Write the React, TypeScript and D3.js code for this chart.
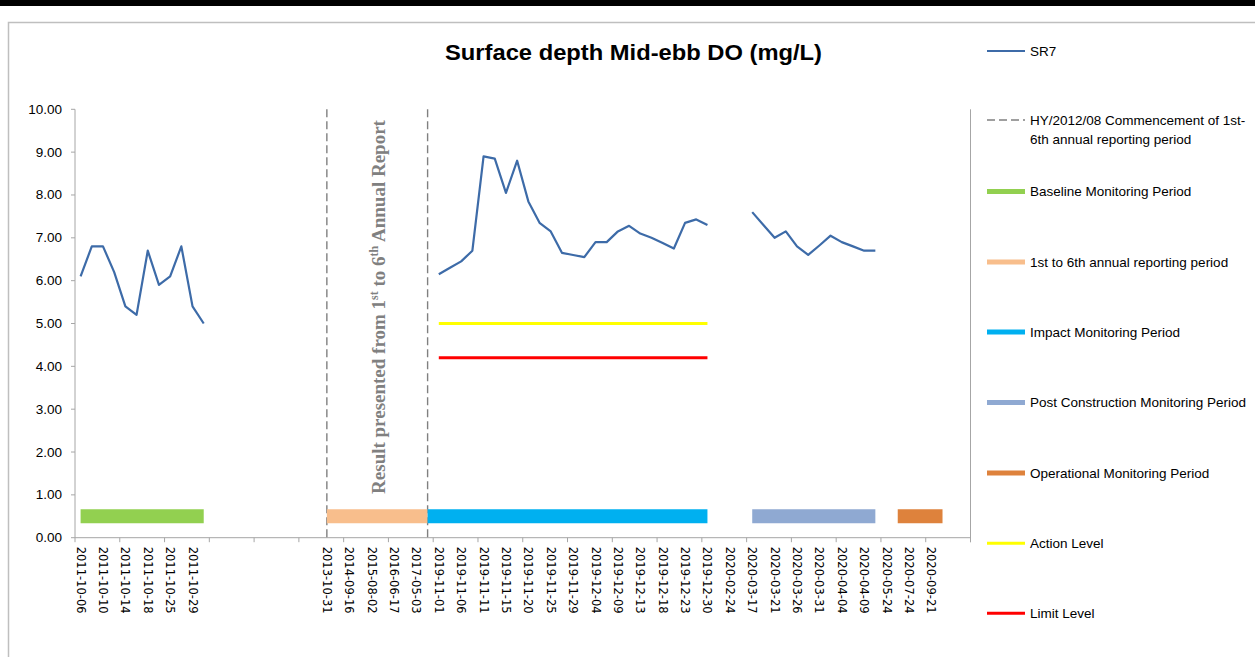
import React from "react";
import * as d3 from "d3";

// ---- data ----
const categoryCount = 80;
// labels shown on every second category (index k -> category 2k)
const tickLabels = [
  "2011-10-06", "2011-10-10", "2011-10-14", "2011-10-18", "2011-10-25", "2011-10-29",
  "", "", "", "", "",
  "2013-10-31", "2014-09-16", "2015-08-02", "2016-06-17", "2017-05-03",
  "2019-11-01", "2019-11-06", "2019-11-11", "2019-11-15", "2019-11-20", "2019-11-25",
  "2019-11-29", "2019-12-04", "2019-12-09", "2019-12-13", "2019-12-18", "2019-12-23",
  "2019-12-30", "2020-02-24", "2020-03-17", "2020-03-21", "2020-03-26", "2020-03-31",
  "2020-04-04", "2020-04-09", "2020-05-24", "2020-07-24", "2020-09-21", "",
];
const yTicks = [0, 1, 2, 3, 4, 5, 6, 7, 8, 9, 10];

const baselineStart = 0;
const baselineValues = [6.1, 6.8, 6.8, 6.2, 5.4, 5.2, 6.7, 5.9, 6.1, 6.8, 5.4, 5.0];
const impactStart = 32;
const impactValues = [
  6.15, 6.3, 6.45, 6.7, 8.9, 8.85, 8.05, 8.8, 7.85, 7.35, 7.15, 6.65, 6.6,
  6.55, 6.9, 6.9, 7.15, 7.28, 7.1, 7.0, 6.88, 6.75, 7.35, 7.43, 7.3,
];
const postStart = 60;
const postValues = [7.6, 7.3, 7.0, 7.15, 6.8, 6.6, 6.82, 7.05, 6.9, 6.8, 6.7, 6.7];

const periodNames = [
  "Baseline Monitoring Period",
  "1st to 6th annual reporting period",
  "Impact Monitoring Period",
  "Post Construction Monitoring Period",
  "Operational Monitoring Period",
];
const periodStart = [0, 22, 31, 60, 73];
const periodEnd = [11, 31, 56, 71, 77];
const periodColors = ["#92D050", "#F8BE8C", "#00B0F0", "#8FA9D2", "#DE823C"];
const periodLevel = 0.5;

const dashedCats = [22, 31];
const actionLevel = 5.0;
const limitLevel = 4.2;
const levelStart = 32;
const levelEnd = 56;

const title = "Surface depth Mid-ebb DO (mg/L)";

// ---- layout ----
const W = 1255;
const H = 657;
const plotLeft = 75;
const plotRight = 970.5;
const plotTop = 109.3;
const plotBottom = 537.7;

export default function App() {
  const xi = d3.scaleLinear().domain([0, categoryCount]).range([plotLeft, plotRight]);
  const xc = (i: number) => xi(i + 0.5);
  const y = d3.scaleLinear().domain([0, 10]).range([plotBottom, plotTop]);

  const line = d3
    .line<[number, number]>()
    .x((d) => xc(d[0]))
    .y((d) => y(d[1]));

  const seg = (start: number, vals: number[]) =>
    line(vals.map((v, i) => [start + i, v] as [number, number])) || "";

  const xTickIdx = d3.range(0, categoryCount + 1, 4);

  const legendY = [51, 120, 191.5, 262, 332, 402.5, 473, 543.3, 613.3];
  const legendX0 = 987;
  const legendX1 = 1025;
  const legendTextX = 1030;
  const legendFont = "'Liberation Sans', Arial, sans-serif";

  return (
    <svg
      width={W}
      height={H}
      style={{ position: "absolute", left: 0, top: 0, display: "block", background: "#fff" }}
    >
      {/* top black band */}
      <rect x={0} y={0} width={W} height={6} fill="#000" />
      {/* chart frame */}
      <path d={`M8.5,${H} V22.5 H${W}`} fill="none" stroke="#bfbfbf" strokeWidth={1.5} />

      {/* title */}
      <text
        x={633.5}
        y={60}
        textAnchor="middle"
        fontFamily="'Liberation Sans', Arial, sans-serif"
        fontWeight="bold"
        fontSize={22}
        textLength={377}
        lengthAdjust="spacingAndGlyphs"
        fill="#000"
      >
        {title}
      </text>

      {/* y axis */}
      <line x1={plotLeft} x2={plotLeft} y1={plotTop} y2={plotBottom} stroke="#a6a6a6" strokeWidth={1} />
      {yTicks.map((t) => (
        <g key={t}>
          <line x1={plotLeft - 4} x2={plotLeft} y1={y(t)} y2={y(t)} stroke="#a6a6a6" />
          <text
            x={62}
            y={y(t)}
            textAnchor="end"
            dominantBaseline="central"
            fontFamily="'Liberation Sans', Arial, sans-serif"
            fontSize={13.5}
            fill="#000"
          >
            {d3.format(".2f")(t)}
          </text>
        </g>
      ))}
      {/* right axis */}
      <line x1={plotRight} x2={plotRight} y1={plotTop} y2={plotBottom + 4.5} stroke="#a6a6a6" strokeWidth={1} />

      {/* x axis */}
      <line x1={plotLeft} x2={plotRight} y1={plotBottom} y2={plotBottom} stroke="#a6a6a6" strokeWidth={1} />
      {xTickIdx.map((i) => (
        <line key={i} x1={xi(i)} x2={xi(i)} y1={plotBottom} y2={plotBottom + 4.5} stroke="#a6a6a6" />
      ))}
      {tickLabels.map((lab, k) =>
        lab ? (
          <text
            key={k}
            transform={`translate(${xc(k * 2)},${plotBottom + 9}) rotate(90)`}
            textAnchor="start"
            dominantBaseline="central"
            fontFamily="'DejaVu Sans', Verdana, sans-serif"
            fontSize={11.5}
            fill="#000"
          >
            {lab}
          </text>
        ) : null
      )}

      {/* dashed commencement lines */}
      {dashedCats.map((c) => (
        <line
          key={c}
          x1={xc(c)}
          x2={xc(c)}
          y1={plotTop}
          y2={plotBottom}
          stroke="#808080"
          strokeWidth={1.4}
          strokeDasharray="8,4"
        />
      ))}

      {/* period bars */}
      {periodNames.map((n, i) => (
        <line
          key={n}
          x1={xc(periodStart[i])}
          x2={xc(periodEnd[i])}
          y1={y(periodLevel)}
          y2={y(periodLevel)}
          stroke={periodColors[i]}
          strokeWidth={14}
        />
      ))}

      {/* action / limit */}
      <line x1={xc(levelStart)} x2={xc(levelEnd)} y1={y(actionLevel)} y2={y(actionLevel)} stroke="#FFFF00" strokeWidth={3} />
      <line x1={xc(levelStart)} x2={xc(levelEnd)} y1={y(limitLevel)} y2={y(limitLevel)} stroke="#FF0000" strokeWidth={3} />

      {/* SR7 series */}
      {[
        [baselineStart, baselineValues],
        [impactStart, impactValues],
        [postStart, postValues],
      ].map(([s, v], i) => (
        <path
          key={i}
          d={seg(s as number, v as number[])}
          fill="none"
          stroke="#3D6BA8"
          strokeWidth={2.2}
          strokeLinejoin="round"
        />
      ))}

      {/* rotated annotation */}
      <text
        transform={`translate(385,307) rotate(-90)`}
        textAnchor="middle"
        fontFamily="'Liberation Serif', 'Times New Roman', serif"
        fontWeight="bold"
        fontSize={19}
        fill="#808080"
      >
        Result presented from 1
        <tspan fontSize={12} dy={-7}>st</tspan>
        <tspan dy={7}> to 6</tspan>
        <tspan fontSize={12} dy={-7}>th</tspan>
        <tspan dy={7}> Annual Report</tspan>
      </text>

      {/* legend */}
      <g fontFamily={legendFont} fontSize={13.5} fill="#000">
        <line x1={legendX0} x2={legendX1} y1={legendY[0]} y2={legendY[0]} stroke="#3D6BA8" strokeWidth={2.2} />
        <text x={legendTextX} y={legendY[0]} dominantBaseline="central">SR7</text>

        <line
          x1={legendX0}
          x2={legendX1}
          y1={legendY[1]}
          y2={legendY[1]}
          stroke="#808080"
          strokeWidth={1.4}
          strokeDasharray="8,4"
        />
        <text x={legendTextX} y={legendY[1]} dominantBaseline="central">
          HY/2012/08 Commencement of 1st-
        </text>
        <text x={legendTextX} y={legendY[1] + 19} dominantBaseline="central">
          6th annual reporting period
        </text>

        {periodNames.map((n, i) => (
          <g key={n}>
            <line
              x1={legendX0}
              x2={legendX1}
              y1={legendY[2 + i]}
              y2={legendY[2 + i]}
              stroke={periodColors[i]}
              strokeWidth={5}
            />
            <text x={legendTextX} y={legendY[2 + i]} dominantBaseline="central">
              {n}
            </text>
          </g>
        ))}

        <line x1={legendX0} x2={legendX1} y1={legendY[7]} y2={legendY[7]} stroke="#FFFF00" strokeWidth={3} />
        <text x={legendTextX} y={legendY[7]} dominantBaseline="central">Action Level</text>
        <line x1={legendX0} x2={legendX1} y1={legendY[8]} y2={legendY[8]} stroke="#FF0000" strokeWidth={3} />
        <text x={legendTextX} y={legendY[8]} dominantBaseline="central">Limit Level</text>
      </g>
    </svg>
  );
}
